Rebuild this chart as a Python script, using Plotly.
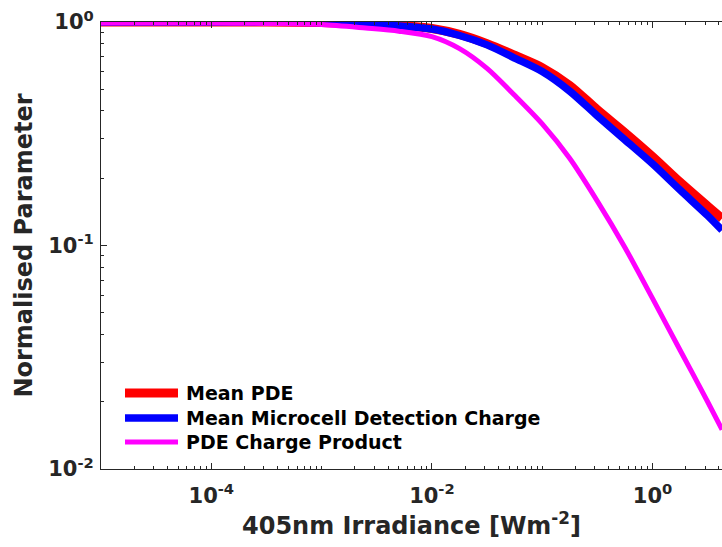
import plotly.graph_objects as go

# Irradiance values [W m^-2]
irradiance = [1e-5, 1e-4, 3.16e-4, 1e-3, 2.51e-3, 5.01e-3, 1e-2, 1.78e-2, 3.16e-2,
              5.62e-2, 0.1, 0.178, 0.316, 0.562, 1.0, 1.78, 3.16, 4.27]

mean_pde = [1.0, 1.0, 1.0, 0.995, 0.98, 0.965, 0.935, 0.88, 0.80,
            0.71, 0.625, 0.52, 0.405, 0.32, 0.25, 0.192, 0.15, 0.132]

mean_charge = [1.0, 1.0, 1.0, 0.995, 0.975, 0.96, 0.93, 0.87, 0.79,
               0.69, 0.60, 0.49, 0.38, 0.297, 0.232, 0.177, 0.136, 0.117]

pde_charge_product = [0.99, 0.99, 0.985, 0.975, 0.94, 0.91, 0.86, 0.76, 0.62,
                      0.47, 0.35, 0.245, 0.158, 0.098, 0.058, 0.034, 0.020, 0.0150]

series_names = ["Mean PDE", "Mean Microcell Detection Charge", "PDE Charge Product"]
series_colors = ["#ff0000", "#0000ff", "#ff00ff"]
series_widths = [9, 7.5, 5]
series_values = [mean_pde, mean_charge, pde_charge_product]

x_tickvals = [1e-4, 1e-2, 1e0]
x_ticktext = ["10<sup>-4</sup>", "10<sup>-2</sup>", "10<sup>0</sup>"]
y_tickvals = [1e-2, 1e-1, 1e0]
y_ticktext = ["10<sup>-2</sup>", "10<sup>-1</sup>", "10<sup>0</sup>"]

x_minor = [m * 10.0 ** e for e in range(-5, 1) for m in range(1, 10)
           if not (m == 1 and e in (-4, -2, 0))]
y_minor = [m * 10.0 ** e for e in range(-2, 0) for m in range(2, 10)]

FONT = "DejaVu Sans"
AX = "#262626"

fig = go.Figure()
for name, vals, col, w in zip(series_names, series_values, series_colors, series_widths):
    fig.add_trace(go.Scatter(x=irradiance, y=vals, mode="lines", name=name,
                             line=dict(color=col, width=w, shape="spline", smoothing=0.8),
                             showlegend=False, cliponaxis=False))

# legend drawn manually (long key lines like the original)
W, H = 722, 547
L, R, T, B = 101, 0, 22, 78
pw, ph = W - L - R, H - T - B
rows_px = [393, 418, 442]
for name, col, w, ypx in zip(series_names, series_colors, series_widths, rows_px):
    yp = (H - B - ypx) / ph
    fig.add_shape(type="line", xref="paper", yref="paper",
                  x0=(125 - L) / pw, x1=(178 - L) / pw, y0=yp, y1=yp,
                  line=dict(color=col, width=w))
    fig.add_annotation(xref="paper", yref="paper", x=(184 - L) / pw, y=yp,
                       xanchor="left", yanchor="middle", showarrow=False,
                       text="<b>%s</b>" % name,
                       font=dict(family=FONT, size=19, color="#000000"))

fig.update_layout(
    width=W, height=H,
    margin=dict(l=L, r=R, t=T, b=B),
    paper_bgcolor="white", plot_bgcolor="white",
    font=dict(family=FONT, color=AX),
)
fig.update_xaxes(
    type="log", range=[-5, 0.63],
    tickvals=x_tickvals, ticktext=["<b>%s</b>" % t for t in x_ticktext],
    ticks="inside", ticklen=6, tickwidth=1, tickcolor=AX,
    minor=dict(tickvals=x_minor, ticks="inside", ticklen=3, tickcolor=AX, showgrid=False),
    showline=True, linecolor=AX, linewidth=1, mirror="allticks",
    showgrid=False, zeroline=False, ticklabelstandoff=8,
    tickfont=dict(family=FONT, size=21, color=AX),
    title=dict(text="<b>405nm Irradiance [Wm<sup>-2</sup>]</b>",
               font=dict(family=FONT, size=24, color=AX), standoff=6),
)
fig.update_yaxes(
    type="log", range=[-2, 0],
    tickvals=y_tickvals, ticktext=["<b>%s</b>" % t for t in y_ticktext],
    ticks="inside", ticklen=6, tickwidth=1, tickcolor=AX,
    minor=dict(tickvals=y_minor, ticks="inside", ticklen=3, tickcolor=AX, showgrid=False),
    showline=True, linecolor=AX, linewidth=1,
    showgrid=False, zeroline=False, ticklabelstandoff=2,
    tickfont=dict(family=FONT, size=21, color=AX),
    title=dict(text="<b>Normalised Parameter</b>",
               font=dict(family=FONT, size=24, color=AX), standoff=8),
)

fig.write_html("out.html")
